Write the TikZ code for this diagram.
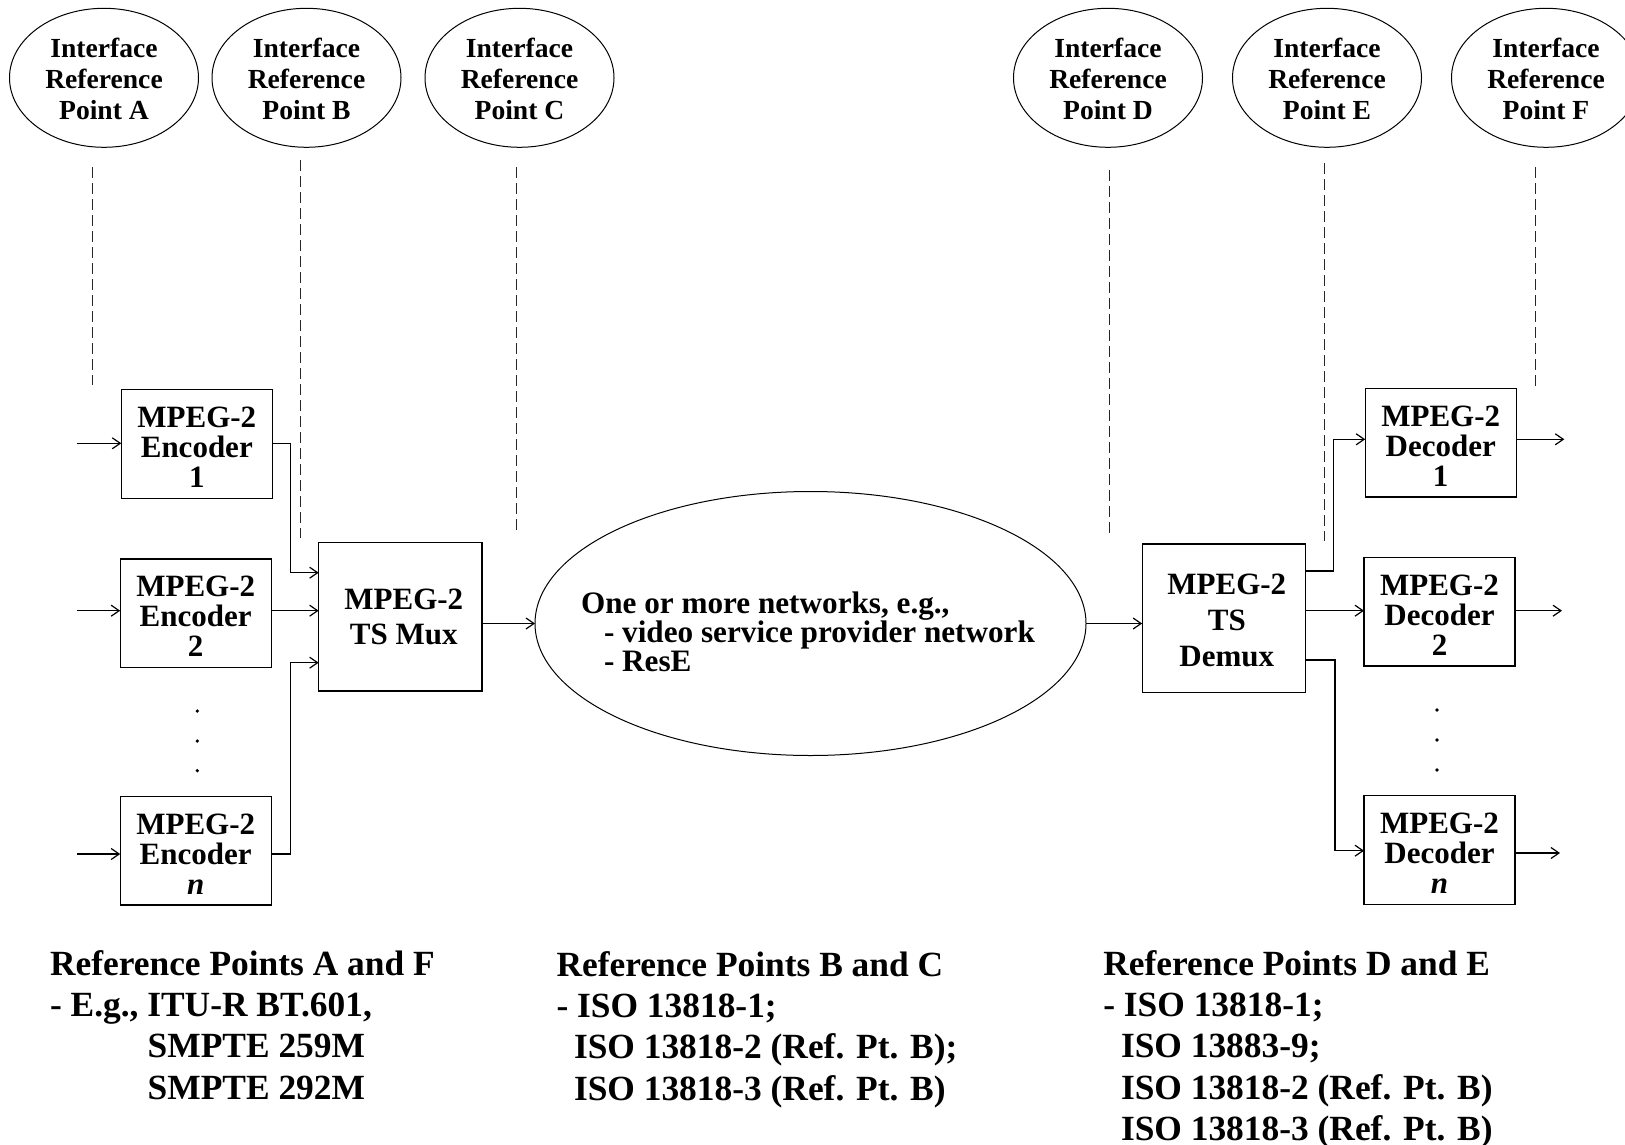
\documentclass[tikz,border=0pt]{standalone}
\usepackage{fontspec}
\setmainfont{Liberation Serif}
\usetikzlibrary{shapes.geometric,arrows.meta}
% invisible strut that lowers a centred multi-line text block
\newcommand\toppad[1]{\rule{0pt}{#1}}
\begin{document}
\begin{tikzpicture}[x=1pt,y=-1pt,
  every node/.style={inner sep=0pt,outer sep=0pt},
  refpt/.style={draw,line width=1pt,ellipse,minimum width=189pt,minimum height=139pt,
    align=center,font=\fontsize{27.6}{31.3}\selectfont\bfseries},
  block/.style={draw,line width=1.3pt,rectangle,minimum width=151pt,minimum height=108.6pt,
    align=center,font=\fontsize{31}{30}\selectfont\bfseries},
  tsbox/.style={draw,line width=1.3pt,rectangle,minimum width=163.3pt,minimum height=148.3pt,
    align=center,font=\fontsize{31}{35}\selectfont\bfseries},
  arr/.style={line width=1.2pt,-{Straight Barb[length=8pt,width=11pt]}},
  guide/.style={line width=1pt,draw=black!85,dash pattern=on 11pt off 5pt},
  notes/.style={anchor=north west,align=left,font=\fontsize{35.4}{41.2}\selectfont\bfseries}
]
\path[use as bounding box,fill=white] (0,0) rectangle (1625,1145);
\clip (0,0) rectangle (1625,1145);

% interface reference points
\node[refpt] (ia) at (104,77.8)    {\toppad{22pt}Interface\\Reference\\Point A};
\node[refpt] (ib) at (306.5,77.8)  {\toppad{22pt}Interface\\Reference\\Point B};
\node[refpt] (ic) at (519.5,77.8)  {\toppad{22pt}Interface\\Reference\\Point C};
\node[refpt] (id) at (1108,77.8)   {\toppad{22pt}Interface\\Reference\\Point D};
\node[refpt] (ie) at (1327,77.8)   {\toppad{22pt}Interface\\Reference\\Point E};
\node[refpt] (if) at (1546,77.8)   {\toppad{22pt}Interface\\Reference\\Point F};

% dashed reference lines
\foreach \n/\x/\ya/\yb in {a/92/167/385, b/300/160/538, c/516/167/535,
                           d/1109.7/170/537, e/1324/163/540.7, f/1535.3/167/391}{
  \coordinate (g\n top) at (\x,\ya);
  \coordinate (g\n bot) at (\x,\yb);
  \draw[guide] (g\n top) -- (g\n bot);
}

% encoders and multiplexer
\node[block] (enc1) at (196.8,444)   {\toppad{27pt}MPEG-2\\Encoder\\1};
\node[block] (enc2) at (195.7,613.3) {\toppad{27pt}MPEG-2\\Encoder\\2};
\node[block] (encn) at (195.7,850.8) {\toppad{27pt}MPEG-2\\Encoder\\\textit{n}};
\node[tsbox] (mux) at (400.3,616.8)  {\hspace*{7pt}MPEG-2\\\hspace*{7pt}TS Mux};

% network cloud
\node[draw,ellipse,line width=1pt,minimum width=551pt,minimum height=264pt] (net) at (810.5,623.5) {};
\node[anchor=north west,align=left,font=\fontsize{31.2}{29}\selectfont\bfseries] (nettext) at (581,592)
  {One or more networks, e.g.,\\\hspace*{23pt}- video service provider network\\\hspace*{23pt}- ResE};

% demultiplexer and decoders
\node[tsbox,font=\fontsize{31}{36}\selectfont\bfseries] (demux) at (1223.8,618.2)
  {\toppad{25pt}\hspace*{6pt}MPEG-2\\\hspace*{6pt}TS\\\hspace*{6pt}Demux};
\node[block] (dec1) at (1440.7,442.8) {\toppad{27pt}MPEG-2\\Decoder\\1};
\node[block] (dec2) at (1439.5,611.8) {\toppad{27pt}MPEG-2\\Decoder\\2};
\node[block] (decn) at (1439.5,850)   {\toppad{27pt}MPEG-2\\Decoder\\\textit{n}};

% ellipsis dots
\foreach \y in {711,741,770.7} \fill (197.3,\y) circle (1.8pt);
\foreach \y in {710,740,770} \fill (1437,\y) circle (1.8pt);

% encoder side connectors
\coordinate (in1) at (77,443.3);
\coordinate (in2) at (77,610.7);
\coordinate (in3) at (77,854);
\coordinate (m1) at (290.3,572.7);
\coordinate (m3) at (290.3,662.7);
\draw[arr] (in1) -- (in1 -| enc1.west);
\draw[arr] (in2) -- (in2 -| enc2.west);
\draw[arr] (in3) -- (in3 -| encn.west);
\draw[arr] (in1 -| enc1.east) -| (m1) -- (m1 -| mux.west);
\draw[arr] (in2 -| enc2.east) -- (in2 -| mux.west);
\draw[arr] (in3 -| encn.east) -| (m3) -- (m3 -| mux.west);
\draw[arr] (mux.east |- net.west) -- (net.west);

% decoder side connectors
\draw[arr] (net.east) -- (net.east -| demux.west);
\coordinate (o1) at (1333.3,571);
\coordinate (d1) at (1333.3,439.3);
\coordinate (o2) at (1320,610.7);
\coordinate (o3) at (1335,660);
\coordinate (d3) at (1335,850.7);
\draw[arr] (o1 -| demux.east) -- (o1) -- (d1) -- (d1 -| dec1.west);
\draw[arr] (o2 -| demux.east) -- (o2 -| dec2.west);
\draw[arr] (o3 -| demux.east) -- (o3) -- (d3) -- (d3 -| decn.west);
\coordinate (q1) at (1564.3,439.3);
\coordinate (q2) at (1562,610.7);
\coordinate (q3) at (1560,853);
\draw[arr] (q1 -| dec1.east) -- (q1);
\draw[arr] (q2 -| dec2.east) -- (q2);
\draw[arr] (q3 -| decn.east) -- (q3);

% standards notes
\node[notes] (notesAF) at (50,950.6)
  {Reference Points A and F\\- E.g., ITU-R BT.601,\\\hspace*{97.7pt}SMPTE 259M\\\hspace*{97.7pt}SMPTE 292M};
\node[notes] (notesBC) at (556.5,951.6)
  {Reference Points B and C\\- ISO 13818-1;\\\hspace*{17.5pt}ISO 13818-2 (Ref. Pt. B);\\\hspace*{17.5pt}ISO 13818-3 (Ref. Pt. B)};
\node[notes] (notesDE) at (1103.3,950.6)
  {Reference Points D and E\\- ISO 13818-1;\\\hspace*{17.7pt}ISO 13883-9;\\\hspace*{17.7pt}ISO 13818-2 (Ref. Pt. B)\\\hspace*{17.7pt}ISO 13818-3 (Ref. Pt. B)};
\end{tikzpicture}
\end{document}
